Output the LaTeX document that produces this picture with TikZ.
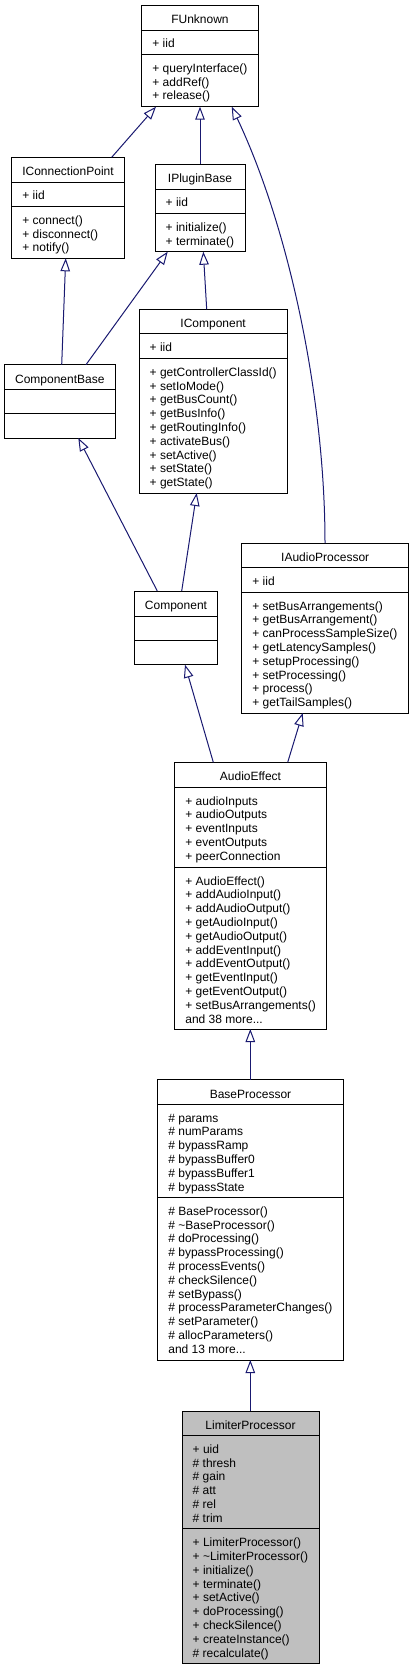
\documentclass[tikz,border=0pt]{standalone}
\usepackage{fontspec}
\setmainfont{Liberation Sans}
\usetikzlibrary{arrows.meta}
\definecolor{edgeblue}{RGB}{25,25,112}
\definecolor{curgray}{RGB}{191,191,191}
\newcommand\threedots{...}
\tikzset{
  classrect/.style={draw=black, line width=0.9pt, inner sep=0pt, outer sep=0pt},
  classline/.style={draw=black, line width=0.9pt},
  titletext/.style={anchor=base, inner sep=0pt, font=\fontsize{12pt}{13.8pt}\selectfont},
  membertext/.style={anchor=base west, inner sep=0pt, font=\fontsize{12pt}{13.8pt}\selectfont},
  inherit/.style={draw=edgeblue, line width=1pt, -{Triangle[open, length=13pt, width=9.5pt]}}
}
\newcommand\umlclass[9]{%
  \node[classrect, fill=#8, minimum width={(#4-#2)*1pt}, minimum height={(#7-#3)*1pt}, anchor=north west] (#1) at (#2,#3) {};
  \draw[classline] (#2,#5) -- (#4,#5);
  \draw[classline] (#2,#6) -- (#4,#6);
  \node[titletext] (#1-title) at ({(#2+#4)/2},{#3+18.3}) {#9};
}
\newcommand\umlmembers[4]{%
  \foreach \mtext [count=\mi] in {#4} {
    \node[membertext] (#1-\mi) at ({#2+10.5},{#3+18+(\mi-1)*13.8}) {\mtext};
  }
}
\begin{document}
\begin{tikzpicture}[x=1pt, y=-1pt]
\useasboundingbox (0,0) rectangle (415,1672);

% FUnknown
\umlclass{fu}{141.7}{5}{258.3}{30}{54.3}{106.7}{white}{FUnknown}
\umlmembers{fu-a}{141.7}{30}{+ iid}
\umlmembers{fu-m}{141.7}{54.3}{+ queryInterface(), + addRef(), + release()}

% IConnectionPoint
\umlclass{icp}{11.7}{157.3}{124.3}{182}{206.3}{258.3}{white}{IConnectionPoint}
\umlmembers{icp-a}{11.7}{182}{+ iid}
\umlmembers{icp-m}{11.7}{206.3}{+ connect(), + disconnect(), + notify()}

% IPluginBase
\umlclass{ipb}{155}{164}{245}{189}{213.3}{251.7}{white}{IPluginBase}
\umlmembers{ipb-a}{155}{189}{+ iid}
\umlmembers{ipb-m}{155}{213.3}{+ initialize(), + terminate()}

% IComponent
\umlclass{ic}{139}{309.3}{287.3}{333.7}{358.3}{493}{white}{IComponent}
\umlmembers{ic-a}{139}{333.7}{+ iid}
\umlmembers{ic-m}{139}{358.3}{+ getControllerClassId(), + setIoMode(), + getBusCount(), + getBusInfo(), + getRoutingInfo(), + activateBus(), + setActive(), + setState(), + getState()}

% ComponentBase
\umlclass{cb}{4.3}{364.7}{115.3}{389}{413.7}{438}{white}{ComponentBase}

% Component
\umlclass{co}{134.3}{591}{217.7}{616}{640.3}{664.7}{white}{Component}

% IAudioProcessor
\umlclass{iap}{241.7}{543}{408.7}{567.3}{592}{713}{white}{IAudioProcessor}
\umlmembers{iap-a}{241.7}{567.3}{+ iid}
\umlmembers{iap-m}{241.7}{592}{+ setBusArrangements(), + getBusArrangement(), + canProcessSampleSize(), + getLatencySamples(), + setupProcessing(), + setProcessing(), + process(), + getTailSamples()}

% AudioEffect
\umlclass{ae}{174.7}{762.3}{326.3}{787}{867}{1029}{white}{AudioEffect}
\umlmembers{ae-a}{174.7}{787}{+ audioInputs, + audioOutputs, + eventInputs, + eventOutputs, + peerConnection}
\umlmembers{ae-m}{174.7}{867}{+ AudioEffect(), + addAudioInput(), + addAudioOutput(), + getAudioInput(), + getAudioOutput(), + addEventInput(), + addEventOutput(), + getEventInput(), + getEventOutput(), + setBusArrangements(), and 38 more\threedots}

% BaseProcessor
\umlclass{bp}{157.7}{1079.7}{343.3}{1104}{1197.3}{1360}{white}{BaseProcessor}
\umlmembers{bp-a}{157.7}{1104}{\# params, \# numParams, \# bypassRamp, \# bypassBuffer0, \# bypassBuffer1, \# bypassState}
\umlmembers{bp-m}{157.7}{1197.3}{\# BaseProcessor(), \# \textasciitilde BaseProcessor(), \# doProcessing(), \# bypassProcessing(), \# processEvents(), \# checkSilence(), \# setBypass(), \# processParameterChanges(), \# setParameter(), \# allocParameters(), and 13 more\threedots}

% LimiterProcessor
\umlclass{lp}{182}{1411}{319}{1435.3}{1528.7}{1663.7}{curgray}{LimiterProcessor}
\umlmembers{lp-a}{182}{1435.3}{+ uid, \# thresh, \# gain, \# att, \# rel, \# trim}
\umlmembers{lp-m}{182}{1528.7}{+ LimiterProcessor(), + \textasciitilde LimiterProcessor(), + initialize(), + terminate(), + setActive(), + doProcessing(), + checkSilence(), + createInstance(), \# recalculate()}

% Inheritance edges
\draw[inherit] ([xshift=100pt]icp.north west) -- ([xshift=14.3pt]fu.south west);
\draw[inherit] ([xshift=45pt]ipb.north west) -- ([xshift=58.3pt]fu.south west);
\draw[inherit] ([xshift=83.3pt]iap.north west) .. controls (325,400) and (290,230) .. ([xshift=90pt]fu.south west);
\draw[inherit] ([xshift=57.4pt]cb.north west) -- ([xshift=54pt]icp.south west);
\draw[inherit] ([xshift=81.7pt]cb.north west) -- ([xshift=12.7pt]ipb.south west);
\draw[inherit] ([xshift=67.7pt]ic.north west) -- ([xshift=48.3pt]ipb.south west);
\draw[inherit] ([xshift=23pt]co.north west) -- ([xshift=74pt]cb.south west);
\draw[inherit] ([xshift=47.4pt]co.north west) -- ([xshift=57.7pt]ic.south west);
\draw[inherit] ([xshift=38.6pt]ae.north west) -- ([xshift=50.7pt]co.south west);
\draw[inherit] ([xshift=113pt]ae.north west) -- ([xshift=61pt]iap.south west);
\draw[inherit] ([xshift=92.6pt]bp.north west) -- ([xshift=75.6pt]ae.south west);
\draw[inherit] ([xshift=68.3pt]lp.north west) -- ([xshift=92.6pt]bp.south west);
\end{tikzpicture}
\end{document}
